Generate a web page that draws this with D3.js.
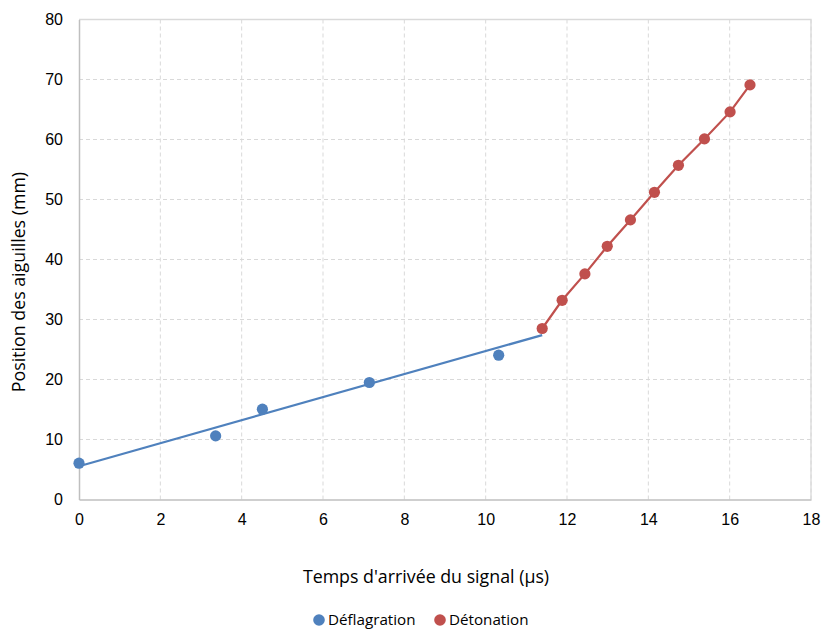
<!DOCTYPE html>
<html><head><meta charset="utf-8">
<script src="https://cdn.jsdelivr.net/npm/d3@7"></script>
<style>
body{margin:0;background:#fff;}
svg{display:block;font-family:"Open Sans", sans-serif;}
</style></head>
<body><svg id="chart" width="821" height="630"></svg>
<script>
const deflagrationX = [0, 3.36, 4.51, 7.14, 10.32];
const deflagrationY = [6.05, 10.6, 15.05, 19.5, 24.05];
const detonationX = [11.39, 11.88, 12.44, 12.99, 13.56, 14.15, 14.74, 15.38, 16.01, 16.5];
const detonationY = [28.5, 33.2, 37.6, 42.2, 46.6, 51.2, 55.7, 60.1, 64.6, 69.1];
const xTicks = [0, 2, 4, 6, 8, 10, 12, 14, 16, 18];
const yTicks = [0, 10, 20, 30, 40, 50, 60, 70, 80];
const seriesNames = ["Déflagration", "Détonation"];
const seriesColors = ["#4f81bd", "#c0504d"];
const xTitle = "Temps d'arrivée du signal (µs)";
const yTitle = "Position des aiguilles (mm)";

const svg = d3.select("#chart");
const m = {left: 79, top: 19.5, right: 811, bottom: 499.5};
const x = d3.scaleLinear().domain([0, 18]).range([m.left, m.right]);
const y = d3.scaleLinear().domain([0, 80]).range([m.bottom, m.top]);

// grid
svg.append("g").selectAll("line").data(xTicks.slice(1)).join("line")
  .attr("x1", d => x(d)).attr("x2", d => x(d)).attr("y1", m.top).attr("y2", m.bottom)
  .attr("stroke", "#d9d9d9").attr("stroke-width", 1).attr("stroke-dasharray", "4,3");
svg.append("g").selectAll("line").data(yTicks.slice(1)).join("line")
  .attr("x1", m.left).attr("x2", m.right).attr("y1", d => y(d)).attr("y2", d => y(d))
  .attr("stroke", "#d9d9d9").attr("stroke-width", 1).attr("stroke-dasharray", "4,3");
// plot border (top/right)
svg.append("path").attr("d", `M${m.left},${m.top}H${m.right}V${m.bottom}`)
  .attr("fill", "none").attr("stroke", "#d9d9d9").attr("stroke-width", 1.3);

// axes
const xAxis = svg.append("g").attr("transform", `translate(0,${m.bottom})`)
  .call(d3.axisBottom(x).tickValues(xTicks).tickSize(0).tickPadding(14));
const yAxis = svg.append("g").attr("transform", `translate(${m.left},0)`)
  .call(d3.axisLeft(y).tickValues(yTicks).tickSize(0).tickPadding(16));
[xAxis, yAxis].forEach(a => {
  a.select(".domain").attr("stroke", "#bfbfbf").attr("stroke-width", 1.5);
  a.selectAll("text").attr("font-size", 16).attr("fill", "#000").attr("font-family", null);
});

// blue trend line (least squares through deflagration points + transition point)
const tx = deflagrationX.concat([detonationX[0]]);
const ty = deflagrationY.concat([detonationY[0]]);
const mx = d3.mean(tx), my = d3.mean(ty);
const slope = d3.sum(tx, (v, i) => (v - mx) * (ty[i] - my)) / d3.sum(tx, v => (v - mx) ** 2);
const icpt = my - slope * mx;
const trendX = [0, detonationX[0]];
svg.append("path")
  .attr("d", d3.line().x(d => x(d)).y(d => y(icpt + slope * d))(trendX))
  .attr("fill", "none").attr("stroke", seriesColors[0]).attr("stroke-width", 2.2);

// red line
svg.append("path")
  .attr("d", d3.line().x((d, i) => x(d)).y((d, i) => y(detonationY[i]))(detonationX))
  .attr("fill", "none").attr("stroke", seriesColors[1]).attr("stroke-width", 2.2);

// points
svg.append("g").selectAll("circle").data(deflagrationX).join("circle")
  .attr("cx", d => x(d)).attr("cy", (d, i) => y(deflagrationY[i])).attr("r", 5.6)
  .attr("fill", seriesColors[0]);
svg.append("g").selectAll("circle").data(detonationX).join("circle")
  .attr("cx", d => x(d)).attr("cy", (d, i) => y(detonationY[i])).attr("r", 5.6)
  .attr("fill", seriesColors[1]);

// titles
svg.append("text").attr("x", 426).attr("y", 583).attr("text-anchor", "middle")
  .attr("font-size", 17.8).text(xTitle);
svg.append("text").attr("transform", "translate(25,282) rotate(-90)").attr("text-anchor", "middle")
  .attr("font-size", 17.8).text(yTitle);

// legend
const legX = [319, 440];
const leg = svg.append("g").selectAll("g").data(seriesNames).join("g")
  .attr("transform", (d, i) => `translate(${legX[i]},620)`);
leg.append("circle").attr("r", 5.8).attr("fill", (d, i) => seriesColors[i]);
leg.append("text").attr("x", 9).attr("dy", "0.35em").attr("font-size", 15.2).text(d => d);
</script></body></html>
